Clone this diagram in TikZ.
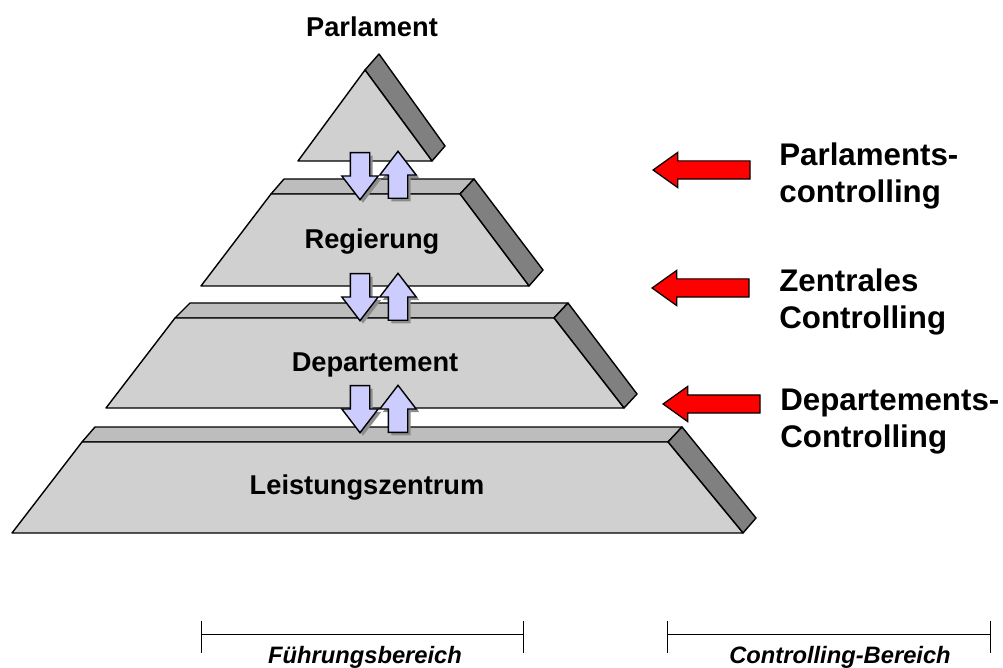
\documentclass[tikz,border=0pt]{standalone}
\usepackage{fontspec}
\setmainfont{Liberation Sans}
\usetikzlibrary{shapes.arrows, shadows}

\definecolor{stufevorne}{HTML}{D0D0D0}
\definecolor{stufeoben}{HTML}{BDBDBD}
\definecolor{stufeseite}{HTML}{808080}
\definecolor{pfeilblau}{HTML}{CCCCFF}
\definecolor{pfeilrot}{HTML}{FF0000}

\begin{document}
\begin{tikzpicture}[x=0.02cm, y=-0.02cm,
    vorne/.style={fill=stufevorne, draw=black, line width=0.8pt, line join=round},
    oben/.style={fill=stufeoben, draw=black, line width=0.8pt, line join=round},
    seite/.style={fill=stufeseite, draw=black, line width=0.8pt, line join=round},
    ebene/.style={font=\fontsize{15.5}{18}\selectfont\bfseries, inner sep=0pt, anchor=base},
    bereich/.style={font=\fontsize{17.8}{21}\selectfont\bfseries, align=left, inner sep=0pt, anchor=west},
    fuss/.style={font=\fontsize{13.5}{16}\selectfont\bfseries\itshape, inner sep=0pt, anchor=base},
    klammer/.style={draw=black, line width=0.45pt},
    blaupfeil/.style={single arrow, fill=pfeilblau, draw=black, line width=0.8pt, inner xsep=0pt, inner ysep=0.18cm,
      minimum height=0.94cm, minimum width=0.7cm, single arrow head extend=0.17cm, single arrow tip angle=75,
      anchor=tail, drop shadow={shadow xshift=0.06cm, shadow yshift=-0.06cm, fill=black!45, opacity=1}},
    rotpfeil/.style={single arrow, fill=pfeilrot, draw=black, line width=0.7pt, inner xsep=0pt, inner ysep=0.17cm,
      minimum height=1.94cm, minimum width=0.68cm, single arrow head extend=0.17cm, single arrow tip angle=71,
      rotate=180, anchor=tip}
  ]
  \useasboundingbox (0,0) rectangle (1003,668);

  % Parlament
  \filldraw[seite] (365,70) -- (379,54) -- (445,146) -- (432,161) -- cycle;
  \filldraw[vorne] (365,70) -- (432,161) -- (298,161) -- cycle;

  % Regierung
  \filldraw[oben] (271,194) -- (284,179) -- (474,179) -- (460,194) -- cycle;
  \filldraw[seite] (460,194) -- (474,179) -- (543,270) -- (529,286) -- cycle;
  \filldraw[vorne] (271,194) -- (460,194) -- (529,286) -- (201,286) -- cycle;

  % Departement
  \filldraw[oben] (175,318) -- (190,303) -- (568,303) -- (554,318) -- cycle;
  \filldraw[seite] (554,318) -- (568,303) -- (637,394) -- (624,408) -- cycle;
  \filldraw[vorne] (175,318) -- (554,318) -- (624,408) -- (106,408) -- cycle;

  % Leistungszentrum
  \filldraw[oben] (82,442) -- (95,427) -- (682,427) -- (668,442) -- cycle;
  \filldraw[seite] (668,442) -- (682,427) -- (756,518) -- (743,533) -- cycle;
  \filldraw[vorne] (82,442) -- (668,442) -- (743,533) -- (12,533) -- cycle;

  \node[ebene] (parlament) at (372,37) {Parlament};
  \node[ebene] (regierung) at (372,249) {Regierung};
  \node[ebene] (departement) at (375,372) {Departement};
  \node[ebene] (leistung) at (367,494) {Leistungszentrum};

  % Pfeile zwischen den Ebenen
  \foreach \oben/\unten [count=\i] in {152/199, 273/321, 385/433} {
    \node[blaupfeil, rotate=-90] (ab\i) at (360,\oben) {};
    \node[blaupfeil, rotate=90] (auf\i) at (398,\unten) {};
  }

  % Controlling
  \node[rotpfeil] (pfeil1) at (652,170) {};
  \node[rotpfeil] (pfeil2) at (651,288) {};
  \node[rotpfeil] (pfeil3) at (662,404) {};
  \node[bereich] (parlctrl) at (779,176) {Parlaments-\\controlling};
  \node[bereich] (zentral) at (779,302) {Zentrales\\Controlling};
  \node[bereich] (depctrl) at (780,422) {Departements-\\Controlling};

  % Bereiche unten
  \draw[klammer] (201,621) -- (201,653) (201,634) -- (523,634) (523,621) -- (523,653);
  \draw[klammer] (667,621) -- (667,653) (667,634) -- (990,634) (990,621) -- (990,653);
  \node[fuss] (fuehrung) at (365,663) {Führungsbereich};
  \node[fuss] (ctrlbereich) at (840,663) {Controlling-Bereich};
\end{tikzpicture}
\end{document}
